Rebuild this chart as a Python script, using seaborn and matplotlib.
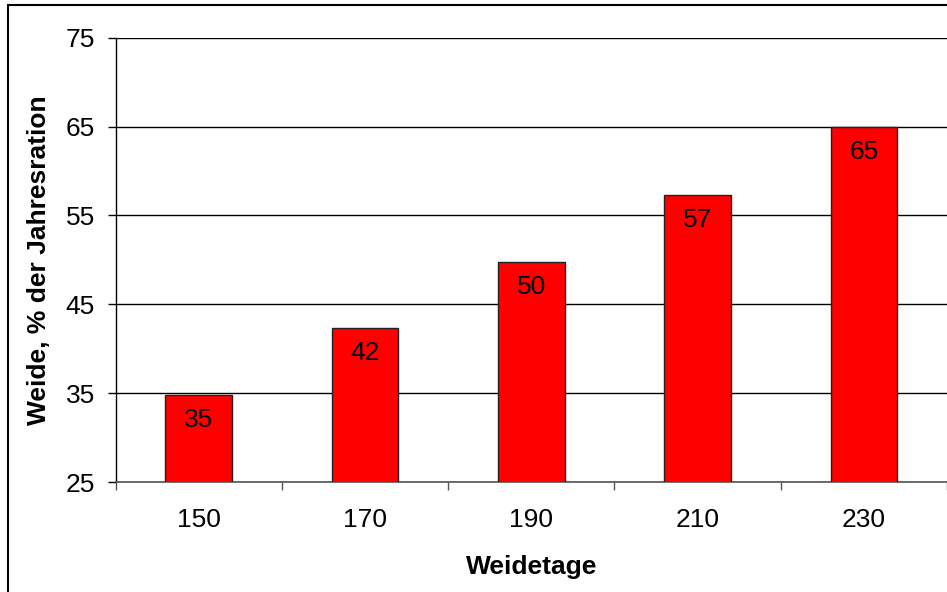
import matplotlib
matplotlib.use("Agg")
import matplotlib.pyplot as plt
import seaborn as sns
import pandas as pd
from matplotlib.patches import Rectangle

# Data
weidetage = ["150", "170", "190", "210", "230"]
weide_anteil = [34.75, 42.3, 49.8, 57.3, 64.9]
y_ticks = [25, 35, 45, 55, 65, 75]

sns.set_theme(style="white")
plt.rcParams['font.family'] = ['Liberation Sans', 'DejaVu Sans']
plt.rcParams['text.color'] = 'black'
plt.rcParams['axes.labelcolor'] = 'black'
plt.rcParams['xtick.color'] = 'black'
plt.rcParams['ytick.color'] = 'black'

df = pd.DataFrame({"Weidetage": weidetage, "Weide": weide_anteil})

fig = plt.figure(figsize=(9.47, 5.92), dpi=100)
ax = fig.add_axes([115.5 / 947, 1 - 482 / 592, 1 - 115.5 / 947, (482 - 37.7) / 592])

sns.barplot(data=df, x="Weidetage", y="Weide", color="#ff0000", width=0.4,
            edgecolor="#222222", linewidth=1.0, saturation=1, ax=ax, zorder=3)

ax.set_ylim(25, 75)
ax.set_xlim(-0.5, len(weidetage) - 0.5)
ax.set_yticks(y_ticks)
ax.yaxis.grid(True, color="black", linewidth=1.0, zorder=0)
ax.set_axisbelow(True)

for s in ["top", "right"]:
    ax.spines[s].set_visible(False)
ax.spines["left"].set_color("black")
ax.spines["left"].set_linewidth(1.0)
ax.spines["bottom"].set_color("#555555")
ax.spines["bottom"].set_linewidth(1.2)

ax.tick_params(axis="y", direction="out", length=5.8, width=1.0, color="black",
               labelcolor="black", pad=9, labelsize=19, left=True)
ax.tick_params(axis="x", which="major", length=0, pad=19, labelsize=19,
               labelcolor="black")
ax.set_xticks([i + 0.5 for i in range(-1, len(weidetage))], minor=True)
ax.tick_params(axis="x", which="minor", direction="out", length=5.8, width=1.0,
               color="#555555", bottom=True)

ax.set_xlabel("Weidetage", fontsize=19, fontweight="bold", labelpad=16, color="black")
ax.set_ylabel("Weide, % der Jahresration", fontsize=19, fontweight="bold", color="black")
ax.yaxis.set_label_coords(-(115.5 - 51) / (947 - 115.5), 0.5)

for cont in ax.containers:
    labels = [f"{v:.0f}" for v in cont.datavalues]
    for rect, lab in zip(cont, labels):
        ax.annotate(lab, (rect.get_x() + rect.get_width() / 2, rect.get_height()),
                    xycoords="data", xytext=(0, -18), textcoords="offset points",
                    ha="center", va="center", fontsize=19, color="black", zorder=4)

# Outer chart frame
fig.patches.append(Rectangle((8 / 947, -0.05), 1.2, (1 - 5 / 592) + 0.05,
                             transform=fig.transFigure, fill=False,
                             edgecolor="black", linewidth=1.5, zorder=10))

fig.savefig("out.png", dpi=100)
